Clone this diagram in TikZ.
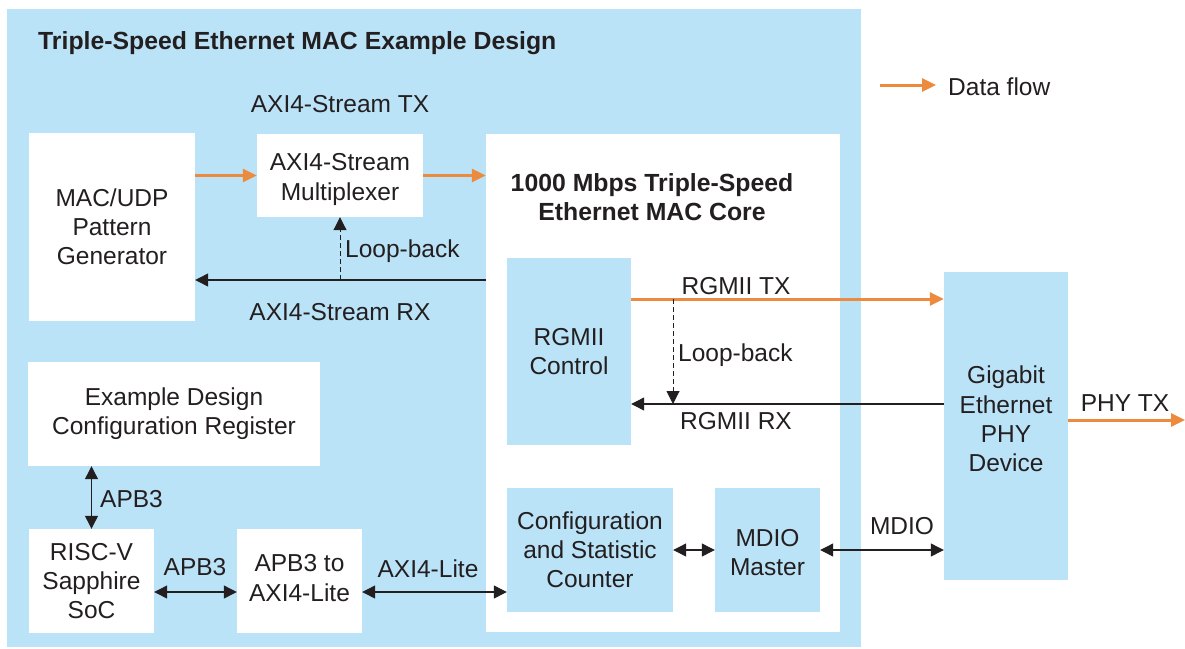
\documentclass[tikz,border=0pt]{standalone}
\usepackage{fontspec}
\setmainfont{Liberation Sans}
\usetikzlibrary{arrows.meta}
\definecolor{paleblue}{RGB}{187,227,248}
\definecolor{flowor}{RGB}{236,139,62}
\definecolor{ink}{RGB}{35,31,32}
\begin{document}
\begin{tikzpicture}[x=1pt,y=-1pt,
  every node/.style={text=ink,font=\fontsize{24.5}{29.2}\selectfont,inner sep=0pt},
  whitebox/.style={fill=white,draw=none,align=center},
  bluebox/.style={fill=paleblue,draw=none,align=center},
  lbl/.style={align=center},
  ttl/.style={font=\bfseries\fontsize{24.8}{29.2}\selectfont,align=center},
  flow/.style={draw=flowor,line width=3pt,-{Triangle[length=14pt,width=13pt]}},
  sig/.style={draw=ink,line width=1.2pt,-{Triangle[length=13pt,width=13pt]}},
  bisig/.style={draw=ink,line width=1.2pt,{Triangle[length=13pt,width=13pt]}-{Triangle[length=13pt,width=13pt]}},
  loop/.style={draw=ink,line width=1pt,dash pattern=on 5pt off 3pt,-{Triangle[length=13pt,width=13pt]}}
]
\useasboundingbox (0,0) rectangle (1185,648);
\fill[white] (0,0) rectangle (1185,648);

% example design frame
\node[fill=paleblue,minimum width=854pt,minimum height=638pt] (design) at (434,328) {};
\node[ttl,anchor=west] (dtitle) at (38,43) {Triple-Speed Ethernet MAC Example Design};

% legend
\coordinate (lgA) at (880,85);
\coordinate (lgB) at (936,85);
\draw[flow] (lgA) -- (lgB);
\node[anchor=west] (lgtext) at (948,87) {Data flow};

% blocks
\node[whitebox,minimum width=166pt,minimum height=188pt] (gen) at (112,227) {MAC/UDP\\Pattern\\Generator};
\node[whitebox,minimum width=166pt,minimum height=83pt] (mux) at (340,175.5) {};
\node[lbl] (muxtext) at (340,179.5) {AXI4-Stream\\Multiplexer};
\node[whitebox,minimum width=354pt,minimum height=498pt] (core) at (663,383) {};
\node[ttl] (coretitle) at (652,197) {1000 Mbps Triple-Speed\\Ethernet MAC Core};
\node[bluebox,minimum width=124pt,minimum height=187pt] (rgmii) at (569,351.5) {RGMII\\Control};
\node[bluebox,minimum width=124pt,minimum height=308pt] (phy) at (1006,426) {};
\node[lbl] (phytext) at (1006,419) {Gigabit\\Ethernet\\PHY\\Device};
\node[bluebox,minimum width=166pt,minimum height=124pt] (cnt) at (590,550) {Configuration\\and Statistic\\Counter};
\node[bluebox,minimum width=105pt,minimum height=124pt] (mdio) at (767.5,550) {};
\node[lbl] (mdiotext) at (767.5,552.5) {MDIO\\Master};
\node[whitebox,minimum width=292pt,minimum height=104pt] (reg) at (174,414) {Example Design\\Configuration Register};
\node[whitebox,minimum width=125pt,minimum height=104pt] (risc) at (91.5,581) {RISC-V\\Sapphire\\SoC};
\node[whitebox,minimum width=125pt,minimum height=104pt] (apb) at (299.5,581) {};
\node[lbl] (apbtext) at (299.5,578) {APB3 to\\AXI4-Lite};

% AXI4-Stream paths
\coordinate (rxs) at (486,280);
\draw[flow] (gen.east |- mux.west) -- (mux.west);
\draw[flow] (mux.east) -- (core.west |- mux.east);
\draw[sig] (rxs) -- (gen.east |- rxs);
\draw[loop] (mux.south |- rxs) -- (mux.south);
\node[lbl] (axtx) at (340,104) {AXI4-Stream TX};
\node[lbl] (axrx) at (340,312) {AXI4-Stream RX};
\node[lbl,anchor=west] (lb1) at (345,251) {Loop-back};

% RGMII paths
\coordinate (txy) at (0,299);
\coordinate (rxy) at (0,404);
\coordinate (lbtop) at (673,299);
\coordinate (lbbot) at (673,404);
\draw[flow] (rgmii.east |- txy) -- (phy.west |- txy);
\draw[sig] (phy.west |- rxy) -- (rgmii.east |- rxy);
\draw[loop] (lbtop) -- (lbbot);
\node[lbl] (rgtx) at (736,286) {RGMII TX};
\node[lbl] (rgrx) at (736,421) {RGMII RX};
\node[lbl,anchor=west] (lb2) at (678,355) {Loop-back};

% PHY output
\coordinate (phyout) at (1185,420);
\draw[flow] (phy.east |- phyout) -- (phyout);
\node[lbl] (phytx) at (1125,403) {PHY TX};

% management paths
\draw[bisig] (mdio.east) -- (phy.west |- mdio.east);
\node[lbl] (mdiol) at (902,526) {MDIO};
\draw[bisig] (cnt.east) -- (mdio.west);
\draw[bisig] (risc.north |- reg.south) -- (risc.north);
\node[lbl,anchor=west] (apbv) at (100,499) {APB3};
\coordinate (busy) at (0,592);
\draw[bisig] (risc.east |- busy) -- (apb.west |- busy);
\node[lbl] (apbh) at (195,567) {APB3};
\draw[bisig] (apb.east |- busy) -- (cnt.west |- busy);
\node[lbl] (axil) at (428,569) {AXI4-Lite};
\end{tikzpicture}
\end{document}
